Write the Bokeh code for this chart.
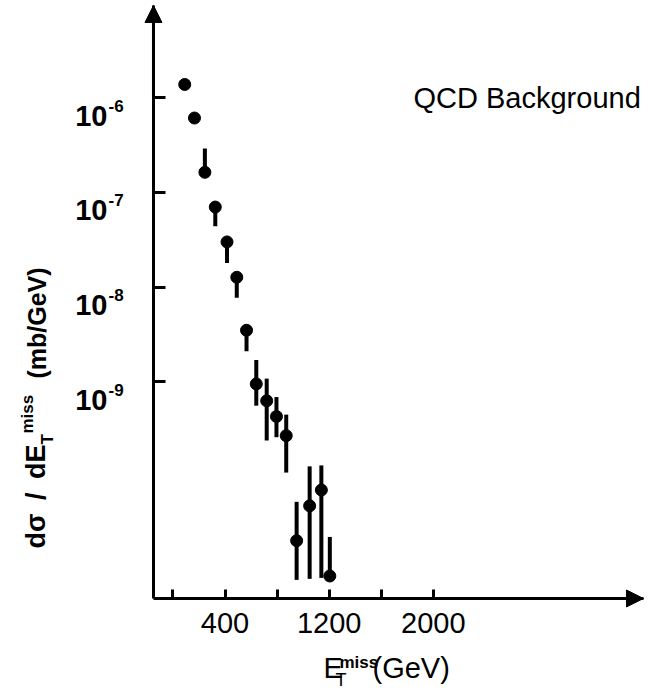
from bokeh.plotting import figure
from bokeh.models import Range1d, FixedTicker, Label, Arrow, NormalHead, LinearAxis, LogAxis
from bokeh.embed import file_html
from bokeh.resources import INLINE
import math

# QCD background: missing transverse energy spectrum
et_miss = [90, 165, 245, 325, 415, 490, 565, 640, 720, 795, 870, 950, 1050, 1140, 1205]  # GeV
dsigma = [1.38e-6, 6.1e-7, 1.63e-7, 7.0e-8, 3.0e-8, 1.27e-8, 3.5e-9, 9.5e-10,
          6.3e-10, 4.3e-10, 2.7e-10, 2.1e-11, 4.9e-11, 7.2e-11, 8.9e-12]  # mb/GeV
err_low = [1.38e-6, 6.1e-7, 1.63e-7, 4.4e-8, 1.8e-8, 7.7e-9, 2.1e-9, 5.6e-10,
           2.4e-10, 2.6e-10, 1.1e-10, 8.1e-12, 8.3e-12, 8.5e-12, 8.9e-12]
err_high = [1.38e-6, 6.1e-7, 2.9e-7, 7.0e-8, 3.0e-8, 1.27e-8, 3.5e-9, 1.7e-9,
            1.08e-9, 6.9e-10, 4.5e-10, 5.4e-11, 1.28e-10, 1.31e-10, 2.3e-11]

x_ticks = [0, 400, 800, 1200, 1600, 2000]
x_tick_labels = ["400", "1200", "2000"]
x_tick_label_pos = [400, 1200, 2000]
y_ticks = [1e-6, 1e-7, 1e-8, 1e-9]
y_tick_exponents = ["-6", "-7", "-8", "-9"]

# axis extents (data units) and the visible window
x_axis_start, x_axis_end = -150, 3615
y_axis_start, y_axis_end = 10 ** -11.288, 10 ** -5.026
x_view = (-1325.5, 3738.3)
y_view = (10 ** -12.2597, 10 ** -4.9736)

SANS = "'Liberation Sans', sans-serif"

p = figure(width=659, height=690, x_range=Range1d(*x_view), y_range=Range1d(*y_view),
           y_axis_type="log", x_axis_location=None, y_axis_location=None,
           output_backend="svg", toolbar_location=None, min_border=0)
p.grid.visible = False
p.outline_line_color = None
p.background_fill_color = "white"
p.border_fill_color = "white"

# axes pinned at the origin corner, ticks pointing inward
xa = LinearAxis(fixed_location=y_axis_start, bounds=(x_axis_start, x_axis_end),
                ticker=FixedTicker(ticks=[], minor_ticks=x_ticks))
ya = LogAxis(fixed_location=x_axis_start, bounds=(y_axis_start, y_axis_end),
             ticker=FixedTicker(ticks=[], minor_ticks=y_ticks))
for ax, tick_len in ((xa, 9), (ya, 12)):
    ax.axis_line_width = 3
    ax.axis_line_color = "black"
    ax.major_tick_in = 0
    ax.major_tick_out = 0
    ax.minor_tick_in = tick_len
    ax.minor_tick_out = 0
    ax.minor_tick_line_width = 3
    ax.minor_tick_line_color = "black"
    ax.major_label_text_font_size = "0px"
p.add_layout(xa, "below")
p.add_layout(ya, "left")

# arrow heads at the ends of both axes
head = dict(size=17, fill_color="black", line_color="black", line_width=1)
p.add_layout(Arrow(end=NormalHead(**head), x_start=x_axis_start, y_start=1e-6,
                   x_end=x_axis_start, y_end=y_axis_end, line_width=3, line_color="black"))
p.add_layout(Arrow(end=NormalHead(**head), x_start=3000, y_start=y_axis_start,
                   x_end=x_axis_end, y_end=y_axis_start, line_width=3, line_color="black"))

# data points with error bars
p.segment(x0=et_miss, y0=err_low, x1=et_miss, y1=err_high, line_width=4, line_color="black")
p.scatter(et_miss, dsigma, size=12, color="black")

lab = dict(text_color="black", text_font=SANS)

# y tick labels 10^n
for val, exp in zip(y_ticks, y_tick_exponents):
    p.add_layout(Label(x=x_axis_start, y=val, text="10", text_align="right",
                       x_offset=-46, y_offset=-28, text_font_style="bold",
                       text_font_size="29px", **lab))
    p.add_layout(Label(x=x_axis_start, y=val, text=exp, text_align="left",
                       x_offset=-45, y_offset=-14, text_font_style="bold",
                       text_font_size="17px", **lab))

# x tick labels
for pos, txt in zip(x_tick_label_pos, x_tick_labels):
    p.add_layout(Label(x=pos, y=y_axis_start, text=txt, text_align="center",
                       y_offset=-35, text_font_size="29px", **lab))

# x axis title: E_T^miss (GeV)
p.add_layout(Label(x=323, y=683, x_units="canvas", y_units="canvas", text="E",
                   text_font_size="29px", **lab))
p.add_layout(Label(x=335, y=689, x_units="canvas", y_units="canvas", text="T",
                   text_font_size="18px", **lab))
p.add_layout(Label(x=339, y=671, x_units="canvas", y_units="canvas", text="miss",
                   text_font_style="bold", text_font_size="17px", **lab))
p.add_layout(Label(x=372, y=683, x_units="canvas", y_units="canvas", text="(GeV)",
                   text_font_size="29px", **lab))

# y axis title: dsigma/dE_T^miss (mb/GeV), reading upward
rot = math.pi / 2
p.add_layout(Label(x=50, y=548, x_units="canvas", y_units="canvas",
                   text="dσ\u2002/\u2002dE", angle=rot,
                   text_font_style="bold", text_font_size="27px", **lab))
p.add_layout(Label(x=56, y=444, x_units="canvas", y_units="canvas", text="T", angle=rot,
                   text_font_style="bold", text_font_size="17px", **lab))
p.add_layout(Label(x=36, y=433, x_units="canvas", y_units="canvas", text="miss", angle=rot,
                   text_font_style="bold", text_font_size="17px", **lab))
p.add_layout(Label(x=50, y=378, x_units="canvas", y_units="canvas", text="(mb/GeV)", angle=rot,
                   text_font_style="bold", text_font_size="25px", **lab))

p.add_layout(Label(x=413, y=113, x_units="canvas", y_units="canvas", text="QCD Background",
                   text_font_size="29px", **lab))

open("out.html", "w").write(file_html(p, INLINE))
